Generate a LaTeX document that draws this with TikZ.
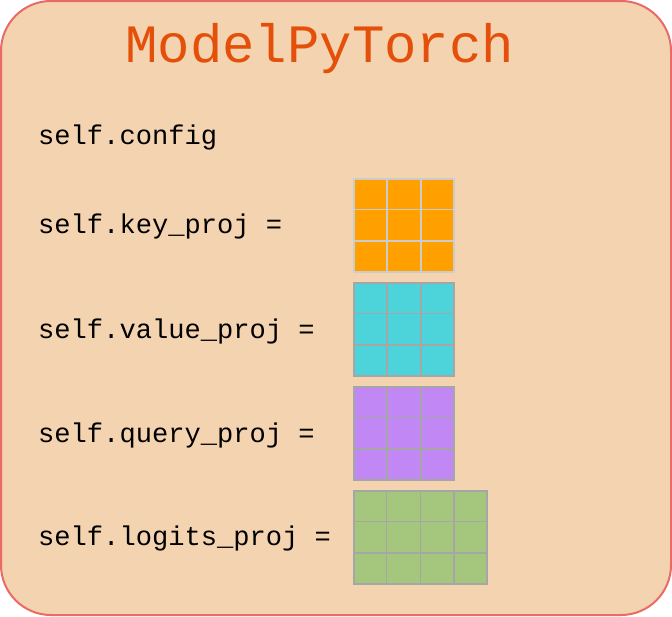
\documentclass[tikz,border=0pt]{standalone}
\usepackage{fontspec}
\setmonofont{Liberation Mono}
\usetikzlibrary{calc}
\definecolor{boxfill}{HTML}{F4D3B0}
\definecolor{boxline}{HTML}{EA6B66}
\definecolor{titlecol}{HTML}{E4500A}
\definecolor{keycol}{HTML}{FFA000}
\definecolor{valuecol}{HTML}{4DD4DA}
\definecolor{querycol}{HTML}{C187F4}
\definecolor{logitscol}{HTML}{A5C67D}
\newcommand{\code}[1]{\ttfamily\fontsize{27.1}{30}\selectfont #1}

\begin{document}
\begin{tikzpicture}[x=1pt,y=-1pt,
	lbl/.style={anchor=base west, inner sep=0pt},
	cells/.style={draw=#1, line width=1.6pt, anchor=north west, minimum height=93pt, inner sep=0pt},
	cellline/.style={draw=#1, line width=1.6pt}]
\useasboundingbox (0,0) rectangle (672,616);
\draw[boxline, fill=boxfill, line width=2pt, rounded corners=50pt] (1,1) rectangle (671,615);
\node[lbl, text=titlecol, font=\ttfamily\fontsize{54}{60}\selectfont] (title) at (125,62) {ModelPyTorch};

\node[lbl] (config) at (38,144) {\code{self.config}};
\node[lbl] (keylbl) at (38,233) {\code{self.key\_proj =}};
\node[lbl] (valuelbl) at (38,338) {\code{self.value\_proj =}};
\node[lbl] (querylbl) at (38,442) {\code{self.query\_proj =}};
\node[lbl] (logitslbl) at (38,545) {\code{self.logits\_proj =}};

% weight matrices
\node[cells=black!20, fill=keycol, minimum width=100pt] (key) at (353,178) {};
\node[cells=black!35, fill=valuecol, minimum width=100pt] (value) at (353,282) {};
\node[cells=black!35, fill=querycol, minimum width=100pt] (query) at (353,386) {};
\node[cells=black!35, fill=logitscol, minimum width=133pt] (logits) at (353,490) {};

\foreach \m/\c in {key/black!20, value/black!35, query/black!35} {
	\foreach \i in {1,2} {
		\draw[cellline=\c] ($(\m.north west)!\i/3!(\m.north east)$) -- ($(\m.south west)!\i/3!(\m.south east)$);
		\draw[cellline=\c] ($(\m.north west)!\i/3!(\m.south west)$) -- ($(\m.north east)!\i/3!(\m.south east)$);
	}
}
\foreach \i in {1,2,3}
	\draw[cellline=black!35] ($(logits.north west)!\i/4!(logits.north east)$) -- ($(logits.south west)!\i/4!(logits.south east)$);
\foreach \i in {1,2}
	\draw[cellline=black!35] ($(logits.north west)!\i/3!(logits.south west)$) -- ($(logits.north east)!\i/3!(logits.south east)$);
\end{tikzpicture}
\end{document}
